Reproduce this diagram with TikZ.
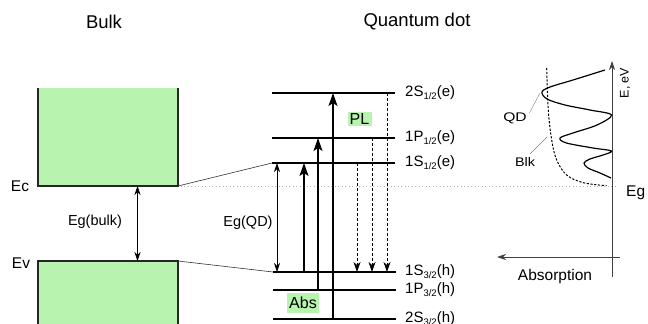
\documentclass[tikz,border=0pt]{standalone}
\usepackage{fontspec}
\setmainfont{Liberation Sans}
\usetikzlibrary{arrows.meta}
\definecolor{bandgreen}{RGB}{184,244,176}
\newcommand\lvsub[1]{\raisebox{-2.8pt}{\fontsize{9.5}{10}\selectfont #1}}
\begin{document}
\begin{tikzpicture}[x=1pt,y=-1pt,
 titletext/.style={font=\fontsize{18.5}{20}\selectfont, inner sep=0pt},
 lbl/.style={font=\fontsize{14.5}{16}\selectfont, inner sep=0pt},
 edgelbl/.style={font=\fontsize{15.5}{17}\selectfont, inner sep=0pt},
 lvl/.style={line width=2pt},
 lvllbl/.style={font=\fontsize{15}{16}\selectfont, anchor=west, inner sep=0pt},
 band/.style={line width=1.5pt, black!85},
 link/.style={line width=0.6pt, black!80},
 gaparr/.style={line width=0.7pt, {Stealth[length=9pt,width=6pt,inset=3pt]}-{Stealth[length=9pt,width=6pt,inset=3pt]}},
 absarr/.style={line width=1.3pt, -{Stealth[length=13pt,width=9pt,inset=3pt]}},
 plarr/.style={line width=0.7pt, dash pattern=on 3pt off 2pt, -{Stealth[length=10pt,width=7pt,inset=3pt]}},
 hl/.style={fill=bandgreen, inner sep=0pt, font=\fontsize{16}{17}\selectfont},
 axisline/.style={line width=0.8pt, black!75, -{Stealth[length=9pt,width=6pt]}},
 leader/.style={line width=0.4pt, black!50},
 gapline/.style={gray!60, line width=0.8pt, dash pattern=on 1pt off 2.5pt},
 smalllbl/.style={font=\fontsize{12.5}{13}\selectfont, inner sep=0pt}
]
\useasboundingbox (0,0) rectangle (648,324);

% titles
\node[titletext] (tbulk) at (104,22) {Bulk};
\node[titletext] (tqd) at (417,22) {Quantum dot};

% dotted gap line
\coordinate (gapL) at (93,186);
\coordinate (gapR) at (618,186);
\draw[gapline] (gapL) -- (gapR);

% bulk bands
\fill[bandgreen] (38,88) rectangle (178,186);
\fill[bandgreen] (38,261) rectangle (178,324);
\coordinate (cbTL) at (38,88);
\coordinate (cbBL) at (38,186);
\coordinate (cbBR) at (178,186);
\coordinate (cbTR) at (178,88);
\coordinate (vbBL) at (38,324);
\coordinate (vbTL) at (38,261);
\coordinate (vbTR) at (178,261);
\coordinate (vbBR) at (178,324);
\draw[band] (cbTL) -- (cbBL) -- (cbBR) -- (cbTR);
\draw[band] (vbBL) -- (vbTL) -- (vbTR) -- (vbBR);

\node[edgelbl] (ec) at (20,186) {Ec};
\node[edgelbl] (ev) at (21,263) {Ev};

\coordinate (egbT) at (137.5,186);
\coordinate (egbB) at (137.5,261);
\draw[gaparr] (egbT) -- (egbB);
\node[lbl] (egb) at (95,222) {Eg(bulk)};

% QD levels
\coordinate (e2SL) at (272,93);  \coordinate (e2SR) at (395,93);
\coordinate (e1PL) at (272,138); \coordinate (e1PR) at (395,138);
\coordinate (e1SL) at (272,163); \coordinate (e1SR) at (395,163);
\coordinate (h1SL) at (273,272); \coordinate (h1SR) at (396,272);
\coordinate (h1PL) at (273,290); \coordinate (h1PR) at (396,290);
\coordinate (h2SL) at (273,319); \coordinate (h2SR) at (396,319);
\foreach \a/\b in {e2SL/e2SR,e1PL/e1PR,e1SL/e1SR,h1SL/h1SR,h1PL/h1PR,h2SL/h2SR}
  \draw[lvl] (\a) -- (\b);

\node[lvllbl] (le2S) at (405,93) {2S\lvsub{1/2}(e)};
\node[lvllbl] (le1P) at (405,138) {1P\lvsub{1/2}(e)};
\node[lvllbl] (le1S) at (405,163) {1S\lvsub{1/2}(e)};
\node[lvllbl] (lh1S) at (405,272) {1S\lvsub{3/2}(h)};
\node[lvllbl] (lh1P) at (405,290) {1P\lvsub{3/2}(h)};
\node[lvllbl] (lh2S) at (405,319) {2S\lvsub{3/2}(h)};

% links bulk -> QD
\draw[link] (cbBR) -- (e1SL);
\draw[link] (vbTR) -- (h1SL);

% Eg(QD)
\coordinate (egqT) at (277,163);
\coordinate (egqB) at (277,272);
\draw[gaparr] (egqT) -- (egqB);
\node[lbl] (egq) at (248,223) {Eg(QD)};

% highlight labels
\node[hl, minimum width=24pt, minimum height=14pt] (pl) at (359.5,118.5) {PL};
\node[hl, minimum width=32pt, minimum height=20pt] (abs) at (303,303) {Abs};

% absorption arrows
\coordinate (a1s) at (304,272); \coordinate (a1e) at (304,163);
\coordinate (a2s) at (318,290); \coordinate (a2e) at (318,138);
\coordinate (a3s) at (333,319); \coordinate (a3e) at (333,93);
\draw[absarr] (a1s) -- (a1e);
\draw[absarr] (a2s) -- (a2e);
\draw[absarr] (a3s) -- (a3e);

% PL arrows
\coordinate (p1s) at (357,163); \coordinate (p1e) at (357,272);
\coordinate (p2s) at (372,138); \coordinate (p2e) at (372,272);
\coordinate (p3s) at (387,93);  \coordinate (p3e) at (387,272);
\draw[plarr] (p1s) -- (p1e);
\draw[plarr] (p2s) -- (p2e);
\draw[plarr] (p3s) -- (p3e);

% right panel axes
\coordinate (axB) at (612,277);
\coordinate (axT) at (612,61);
\coordinate (abR) at (620,257);
\coordinate (abL) at (497,257);
\draw[axisline] (axB) -- (axT);
\draw[axisline] (abR) -- (abL);
\node[smalllbl, rotate=90] (eev) at (625,83) {E, eV};
\node[edgelbl, anchor=west] (egr) at (626,193) {Eg};
\node[edgelbl] (absorp) at (555,276) {Absorption};

% spectra
\draw[line width=1.2pt, line join=round] plot[smooth, tension=0.55] coordinates {
 (605,70) (573,80) (550,87) (542,92) (547,99) (565,105) (590,110) (611.5,115)
 (597,125) (573,133) (560,138) (566.5,143) (593,148) (611.5,151)
 (603,155) (590,159) (584,163) (588,168) (600,173) (611,178)};
\draw[line width=1pt, dash pattern=on 2.2pt off 1.6pt] plot[smooth, tension=0.6] coordinates {
 (546.7,68) (548.3,110) (551.7,140) (556.7,160) (566.7,175) (583.3,182.7) (606.7,185.7)};

\node[smalllbl] (qdl) at (515,118) {\scalebox{1.25}[1]{QD}};
\node[smalllbl] (blkl) at (525,162) {\scalebox{1.15}[1]{Blk}};
\coordinate (qdlead) at (540,93);
\coordinate (blklead) at (547.3,136.7);
\draw[leader] (529.3,113.3) -- (qdlead);
\draw[leader] (530,154) -- (blklead);
\end{tikzpicture}
\end{document}
